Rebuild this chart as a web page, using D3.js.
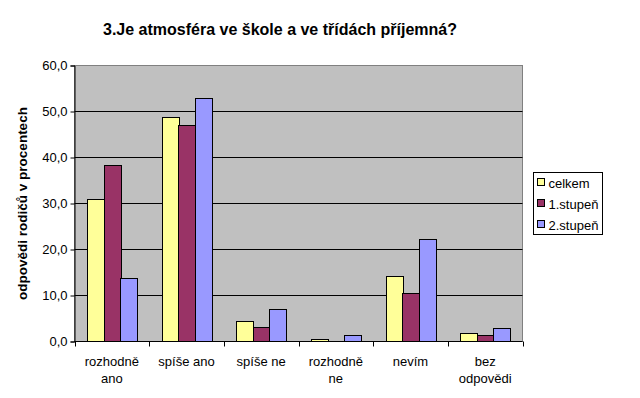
<html>
<script src="https://d3js.org/d3.v7.min.js"></script>
<style>
body { margin: 0; background: #fff; }
text { font-family: Arial, "Liberation Sans", sans-serif; }
</style>
<body>
<svg width="640" height="398"></svg>
<script>
var categories = [["rozhodně", "ano"], ["spíše ano"], ["spíše ne"], ["rozhodně", "ne"], ["nevím"], ["bez", "odpovědi"]];
var seriesNames = ["celkem", "1.stupeň", "2.stupeň"];
var seriesColors = ["#FFFF99", "#993366", "#9999FF"];
var celkem = [30.8, 48.6, 4.3, 0.4, 14.1, 1.7];
var stupen1 = [38.2, 46.9, 3.0, 0.0, 10.4, 1.2];
var stupen2 = [13.8, 52.8, 6.9, 1.2, 22.1, 2.8];
var yTicks = [0, 10, 20, 30, 40, 50, 60];

var series = [celkem, stupen1, stupen2];
var svg = d3.select("svg");
var pL = 74.5, pR = 522.5, pT = 65.5, pB = 341.5;

var x = d3.scaleBand().domain(d3.range(categories.length)).range([pL, pR]);
var y = d3.scaleLinear().domain([0, 60]).range([pB, pT]);
var barW = x.bandwidth() / 4.5;
var gap = (x.bandwidth() - 3 * barW) / 2;

// plot area
svg.append("rect").attr("x", pL).attr("y", pT).attr("width", pR - pL).attr("height", pB - pT)
  .attr("fill", "#C0C0C0").attr("stroke", "#808080");

// gridlines
svg.append("g").selectAll("line").data(yTicks.slice(1, -1)).enter().append("line")
  .attr("x1", pL).attr("x2", pR)
  .attr("y1", function(d) { return Math.floor(y(d)) + 0.5; })
  .attr("y2", function(d) { return Math.floor(y(d)) + 0.5; })
  .attr("stroke", "#000");

// bars
series.forEach(function(vals, s) {
  svg.append("g").selectAll("rect").data(vals).enter().append("rect")
    .attr("x", function(d, i) { return Math.round(x(i) + gap + s * barW) + 0.5; })
    .attr("y", function(d) { return Math.floor(y(d)) + 0.5; })
    .attr("width", Math.round(barW))
    .attr("height", function(d) { return Math.floor(pB) - Math.floor(y(d)); })
    .attr("fill", seriesColors[s]).attr("stroke", "#000");
});

// y axis
var ya = svg.append("g").attr("transform", "translate(" + pL + ",0)")
  .call(d3.axisLeft(y).tickValues(yTicks).tickSize(4).tickPadding(3)
    .tickFormat(function(d) { return d3.format(".1f")(d).replace(".", ","); }));
ya.select(".domain").attr("stroke", "#000");
ya.selectAll("text").attr("font-size", 13).attr("fill", "#000").attr("font-family", "Arial, 'Liberation Sans', sans-serif");

// x axis
var xa = svg.append("g").attr("transform", "translate(0," + pB + ")");
xa.append("line").attr("x1", pL).attr("x2", pR).attr("stroke", "#000");
xa.selectAll(".tk").data(d3.range(categories.length + 1)).enter().append("line")
  .attr("x1", function(d) { return Math.round(d < categories.length ? x(d) : pR) + 0.5; })
  .attr("x2", function(d) { return Math.round(d < categories.length ? x(d) : pR) + 0.5; })
  .attr("y1", 0).attr("y2", 5).attr("stroke", "#000");
var lab = xa.selectAll(".lab").data(categories).enter().append("text")
  .attr("text-anchor", "middle").attr("font-size", 13)
  .attr("x", function(d, i) { return x(i) + x.bandwidth() / 2; })
  .attr("y", 24);
lab.selectAll("tspan").data(function(d) { return d; }).enter().append("tspan")
  .attr("x", function() { return d3.select(this.parentNode).attr("x"); })
  .attr("dy", function(d, i) { return i ? 17 : 0; })
  .text(function(d) { return d; });

// y label
svg.append("text").attr("transform", "translate(27," + (pT + pB) / 2 + ") rotate(-90)")
  .attr("text-anchor", "middle").attr("font-size", 13.5).attr("font-weight", "bold")
  .text("odpovědi rodičů v procentech");

// title
svg.append("text").attr("x", 280).attr("y", 35).attr("text-anchor", "middle")
  .attr("font-size", 16).attr("font-weight", "bold")
  .text("3.Je atmosféra ve škole a ve třídách příjemná?");

// legend
var lg = svg.append("g").attr("transform", "translate(533.5,172.5)");
lg.append("rect").attr("width", 69).attr("height", 62).attr("fill", "#fff").attr("stroke", "#000");
var li = lg.selectAll(".li").data(seriesNames).enter().append("g")
  .attr("transform", function(d, i) { return "translate(4," + (10 + i * 21) + ")"; });
li.append("rect").attr("width", 7).attr("height", 7).attr("y", -4)
  .attr("fill", function(d, i) { return seriesColors[i]; }).attr("stroke", "#000");
li.append("text").attr("x", 11).attr("y", 5).attr("font-size", 13).text(function(d) { return d; });
</script>
</body>
</html>
